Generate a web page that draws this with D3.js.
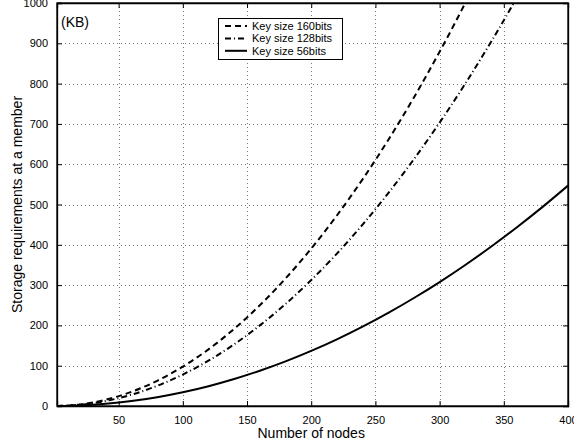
<!DOCTYPE html>
<html>
<head>
<meta charset="utf-8">
<script src="https://cdn.jsdelivr.net/npm/d3@7"></script>
<style>
  body { margin: 0; background: #fff; }
  text { font-family: "Liberation Sans", Arial, sans-serif; }
</style>
</head>
<body>
<div id="chart"></div>
<script>
var svgWidth = 574;
var svgHeight = 444;

var margin = { top: 3, right: 6, bottom: 38, left: 57 };
var chartWidth = svgWidth - margin.left - margin.right;
var chartHeight = svgHeight - margin.top - margin.bottom;

// data
var nodes = [2, 20, 40, 60, 80, 100, 120, 140, 160, 180, 200, 220, 240, 260, 280, 300, 320, 340, 360, 380, 400];
var key160 = [0, 3.9, 15.6, 35.2, 62.5, 97.7, 140.6, 191.4, 250, 316.4, 390.6, 472.7, 562.5, 660.2, 765.6, 878.9, 1000, 1128.9, 1265.6, 1410.2, 1562.5];
var key128 = [0, 3.1, 12.5, 28.1, 50, 78.1, 112.5, 153.1, 200, 253.1, 312.5, 378.1, 450, 528.1, 612.5, 703.1, 800, 903.1, 1012.5, 1128.1, 1250];
var key56 = [0, 1.4, 5.5, 12.3, 21.9, 34.2, 49.2, 67.0, 87.5, 110.7, 136.7, 165.4, 196.9, 231.1, 268.0, 307.6, 350.0, 395.1, 443.0, 493.5, 546.9];
var seriesNames = ["Key size 160bits", "Key size 128bits", "Key size 56bits"];
var xTicks = [50, 100, 150, 200, 250, 300, 350, 400];
var yTicks = [0, 100, 200, 300, 400, 500, 600, 700, 800, 900, 1000];

var dashes = ["6,4", "6,3,1,3", null];
var series = [key160, key128, key56];

var svg = d3.select("#chart")
  .append("svg")
  .attr("width", svgWidth)
  .attr("height", svgHeight);

var chartGroup = svg.append("g")
  .attr("transform", `translate(${margin.left}, ${margin.top})`);

var xScale = d3.scaleLinear().domain([2, 400]).range([0, chartWidth]);
var yScale = d3.scaleLinear().domain([0, 1000]).range([chartHeight, 0]);

// grid
chartGroup.append("g")
  .selectAll("line.vg")
  .data(xTicks.slice(0, -1))
  .enter()
  .append("line")
  .attr("x1", d => Math.round(xScale(d)) + 0.5)
  .attr("x2", d => Math.round(xScale(d)) + 0.5)
  .attr("y1", 0)
  .attr("y2", chartHeight)
  .attr("stroke", "#777")
  .attr("stroke-dasharray", "1,3");

chartGroup.append("g")
  .selectAll("line.hg")
  .data(yTicks.slice(1, -1))
  .enter()
  .append("line")
  .attr("x1", 0)
  .attr("x2", chartWidth)
  .attr("y1", d => Math.round(yScale(d)) + 0.5)
  .attr("y2", d => Math.round(yScale(d)) + 0.5)
  .attr("stroke", "#777")
  .attr("stroke-dasharray", "1,3");

// axes with inside ticks on all four sides
var bottomAxis = d3.axisBottom(xScale).tickValues(xTicks).tickSize(-5).tickPadding(10).tickFormat(d3.format("d"));
var leftAxis = d3.axisLeft(yScale).tickValues(yTicks).tickSize(-5).tickPadding(9).tickFormat(d3.format("d"));

chartGroup.append("g")
  .attr("transform", `translate(0, ${chartHeight})`)
  .call(bottomAxis);
chartGroup.append("g").call(leftAxis);

chartGroup.append("g")
  .call(d3.axisTop(xScale).tickValues(xTicks).tickSize(-5).tickFormat(""));
chartGroup.append("g")
  .attr("transform", `translate(${chartWidth}, 0)`)
  .call(d3.axisRight(yScale).tickValues(yTicks).tickSize(-5).tickFormat(""));

chartGroup.selectAll(".domain").attr("stroke", "#000").attr("stroke-width", 1.3);
chartGroup.selectAll(".tick line").attr("stroke", "#000");
chartGroup.selectAll(".tick text")
  .style("font-size", "11px")
  .attr("fill", "#000");

chartGroup.append("rect")
  .attr("x", 0).attr("y", 0)
  .attr("width", chartWidth).attr("height", chartHeight)
  .attr("fill", "none")
  .attr("stroke", "#000")
  .attr("stroke-width", 1.3);

// curves
chartGroup.append("clipPath")
  .attr("id", "plotclip")
  .append("rect")
  .attr("width", chartWidth)
  .attr("height", chartHeight);

var line = d3.line()
  .x((d, i) => xScale(nodes[i]))
  .y(d => yScale(d))
  .curve(d3.curveMonotoneX);

chartGroup.append("g")
  .attr("clip-path", "url(#plotclip)")
  .selectAll("path.curve")
  .data(series)
  .enter()
  .append("path")
  .attr("class", "curve")
  .attr("d", d => line(d))
  .attr("fill", "none")
  .attr("stroke", "#000")
  .attr("stroke-width", 2)
  .attr("stroke-dasharray", (d, i) => dashes[i]);

// (KB)
chartGroup.append("text")
  .attr("x", 4)
  .attr("y", 24)
  .style("font-size", "14px")
  .text("(KB)");

// legend
var legend = svg.append("g").attr("transform", "translate(218, 18)");
legend.append("rect")
  .attr("x", 0.5).attr("y", 0.5)
  .attr("width", 124).attr("height", 41)
  .attr("fill", "#fff")
  .attr("stroke", "#000");

seriesNames.forEach(function(name, i) {
  var yy = 8 + i * 12.4;
  legend.append("line")
    .attr("x1", 7).attr("x2", 29)
    .attr("y1", yy).attr("y2", yy)
    .attr("stroke", "#000")
    .attr("stroke-width", 2)
    .attr("stroke-dasharray", dashes[i]);
  legend.append("text")
    .attr("x", 34)
    .attr("y", yy + 4)
    .style("font-size", "11px")
    .text(name);
});

// axis titles
svg.append("text")
  .attr("x", margin.left + xScale(200))
  .attr("y", 438)
  .attr("text-anchor", "middle")
  .style("font-size", "14px")
  .text("Number of nodes");

svg.append("text")
  .attr("transform", `translate(22, ${margin.top + chartHeight / 2}) rotate(-90)`)
  .attr("text-anchor", "middle")
  .style("font-size", "14px")
  .text("Storage requirements at a member");
</script>
</body>
</html>
